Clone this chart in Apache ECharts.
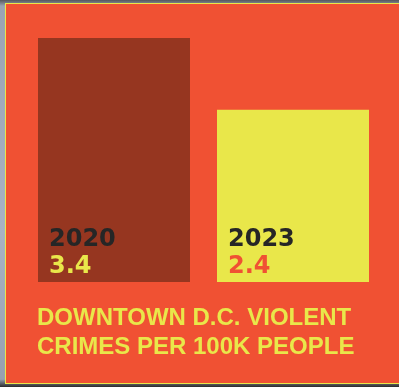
<!DOCTYPE html>
<html>
<head>
<meta charset="utf-8">
<script src="https://cdn.jsdelivr.net/npm/echarts@6/dist/echarts.min.js"></script>
<style>
  html, body { margin: 0; padding: 0; }
  body {
    width: 399px; height: 387px; overflow: hidden; position: relative;
    background: linear-gradient(180deg, #55575d 0px, #9aa3b3 6px, #a8b2c4 60%, #97a0b0 98%, #2b2b2b 100%);
  }
  #frame {
    position: absolute; left: 5px; top: 3px; width: 394px; height: 381px;
    background: #e9e74a;
  }
  #chart {
    position: absolute; left: 1px; top: 1px; width: 393px; height: 379px;
  }
</style>
</head>
<body>
<div id="frame"><div id="chart"></div></div>
<script>
  // Violent crimes per 100k people, downtown D.C.
  const years = ['2020', '2023'];
  const crimeRates = [3.4, 2.4];
  const barColors = ['#963620', '#e9e74a'];
  const valueColors = ['#e9e74a', '#f05133'];
  const titleLines = ['DOWNTOWN D.C. VIOLENT', 'CRIMES PER 100K PEOPLE'];

  const chart = echarts.init(document.getElementById('chart'), null, { renderer: 'canvas' });

  const labelFont = {
    fontFamily: 'DejaVu Sans',
    fontWeight: 'bold',
    fontSize: 24,
    lineHeight: 27
  };

  const option = {
    backgroundColor: '#f05133',
    animation: false,
    title: {
      text: titleLines.join('\n'),
      left: 31,
      top: 300,
      padding: 0,
      textStyle: {
        fontFamily: 'Liberation Sans',
        fontWeight: 'bold',
        fontSize: 24,
        lineHeight: 29,
        color: '#e9e74a'
      }
    },
    grid: { left: 18.5, right: 16.5, top: 34, bottom: 101 },
    xAxis: {
      type: 'category',
      data: years,
      show: false
    },
    yAxis: {
      type: 'value',
      min: 0,
      max: 3.4,
      show: false
    },
    series: [{
      type: 'bar',
      barWidth: 152,
      data: crimeRates.map((v, i) => ({
        value: v,
        itemStyle: { color: barColors[i] },
        label: {
          rich: {
            v: Object.assign({ color: valueColors[i] }, labelFont)
          }
        }
      })),
      label: {
        show: true,
        position: 'insideBottomLeft',
        distance: 0,
        offset: [11, -2],
        formatter: (p) => '{y|' + years[p.dataIndex] + '}\n{v|' + p.value + '}',
        rich: {
          y: Object.assign({ color: '#262626' }, labelFont),
          v: Object.assign({ color: '#e9e74a' }, labelFont)
        }
      }
    }]
  };

  chart.setOption(option);
</script>
</body>
</html>
